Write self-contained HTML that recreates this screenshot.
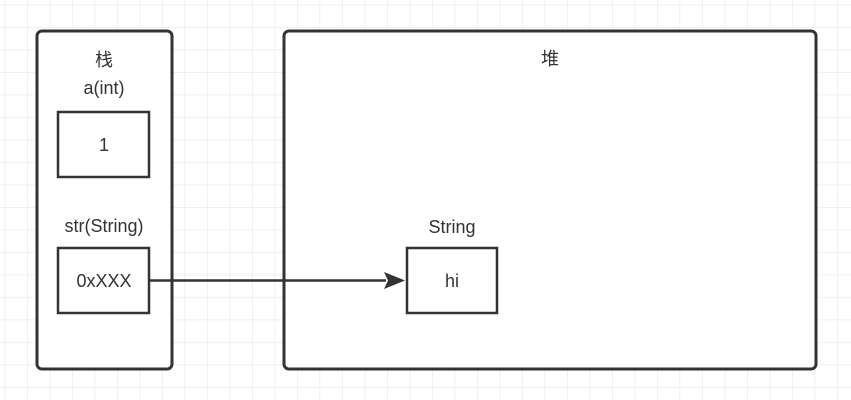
<!DOCTYPE html>
<html><head><meta charset="utf-8"><style>
html,body{margin:0;padding:0;background:#fff;}
svg{display:block;}
text{font-family:"Liberation Sans","Noto Sans CJK SC",sans-serif;font-size:18px;fill:#333;}
</style></head><body>
<svg width="851" height="400" viewBox="0 0 851 400">
<defs>
<pattern id="g" x="4.5" y="4.5" width="22.5" height="22.5" patternUnits="userSpaceOnUse">
<path d="M0 0H22.5M0 0V22.5" stroke="#ebebeb" stroke-width="1.5" fill="none"/>
</pattern>
</defs>
<rect width="851" height="400" fill="url(#g)"/>
<rect x="37" y="31" width="135" height="338" rx="5" fill="#fff" stroke="#333" stroke-width="3"/>
<rect x="284" y="31" width="532" height="338" rx="5" fill="#fff" stroke="#333" stroke-width="3"/>
<rect x="58" y="112" width="91" height="65" fill="#fff" stroke="#333" stroke-width="2.5"/>
<rect x="58" y="248" width="91" height="65" fill="#fff" stroke="#333" stroke-width="2.5"/>
<rect x="407" y="248" width="90" height="65" fill="#fff" stroke="#333" stroke-width="2.5"/>
<line x1="149" y1="280.5" x2="386" y2="280.5" stroke="#333" stroke-width="2.5"/>
<polygon points="384,272 405,280.5 384,289 388,280.5" fill="#333"/>
<text x="104" y="66" text-anchor="middle">栈</text>
<text x="104" y="94" text-anchor="middle">a(int)</text>
<text x="104" y="151" text-anchor="middle">1</text>
<text x="104" y="232" text-anchor="middle">str(String)</text>
<text x="104" y="287" text-anchor="middle">0xXXX</text>
<text x="550" y="65" text-anchor="middle">堆</text>
<text x="452" y="233" text-anchor="middle">String</text>
<text x="452" y="287" text-anchor="middle">hi</text>
</svg>
</body></html>
